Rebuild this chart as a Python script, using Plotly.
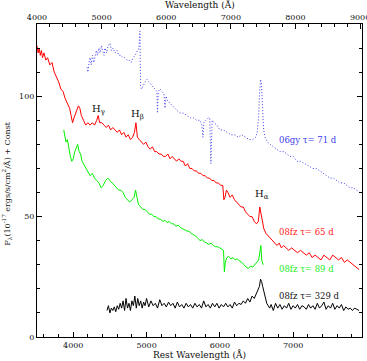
import plotly.graph_objects as go

# ---------------- data (rest wavelength in Angstrom, flux + const) ----------------
red_wave = [3505, 3520, 3535, 3550, 3565, 3580, 3600, 3625, 3650, 3680, 3710, 3740, 3770, 3800,
            3830, 3860, 3890, 3920, 3950, 3970, 3990, 4010, 4040, 4070, 4090, 4110, 4140, 4170,
            4200, 4230, 4260, 4290, 4320, 4340, 4360, 4390, 4420, 4450, 4480, 4510, 4540, 4570,
            4600, 4630, 4660, 4690, 4720, 4750, 4780, 4810, 4835, 4855, 4875, 4900, 4930, 4960,
            4990, 5020, 5050, 5080, 5110, 5140, 5170, 5200, 5230, 5260, 5290, 5320, 5350, 5380,
            5410, 5440, 5470, 5500, 5530, 5560, 5590, 5620, 5650, 5680, 5710, 5740, 5770, 5800,
            5830, 5860, 5890, 5920, 5950, 5980, 6010, 6040, 6055, 6070, 6090, 6110, 6140, 6170,
            6200, 6230, 6260, 6290, 6320, 6350, 6380, 6410, 6440, 6470, 6500, 6525, 6545, 6560,
            6580, 6600, 6630, 6660, 6690, 6720, 6750, 6780, 6810, 6840, 6870, 6900, 6940, 6980,
            7020, 7060, 7100, 7140, 7180, 7220, 7260, 7300, 7340, 7380, 7420, 7460, 7500, 7540,
            7580, 7620, 7660, 7700, 7740, 7780, 7820, 7860, 7900]
red_flux = [121, 118, 120, 117, 119, 116, 118, 115, 116, 113, 114, 110, 108, 106,
            103, 102, 99, 97, 95, 92, 89, 91, 94, 96, 95, 92, 90, 88,
            89, 88, 89, 88, 90, 92, 89, 89, 88, 87, 88, 86, 87, 86,
            85, 86, 84, 85, 83, 84, 82, 83, 85, 89, 83, 82, 81, 80,
            81, 79, 78, 79, 77, 77, 76, 76, 75, 75, 76, 74, 75, 74,
            73, 74, 73, 73, 71, 72, 70, 70, 69, 69, 68, 68, 67, 67,
            66, 66, 65, 65, 64, 64, 63, 63, 57, 58, 61, 60, 58, 59,
            57, 56, 55, 54, 54, 52, 51, 50, 50, 48, 47, 48, 54, 51,
            47, 45, 43, 42, 41, 40, 39, 38, 39, 37, 38, 37, 36, 37,
            36, 35, 36, 35, 34, 35, 33, 34, 33, 32, 34, 33, 32, 34,
            33, 32, 33, 31, 32, 31, 30, 29, 28]

green_wave = [3870, 3885, 3900, 3920, 3940, 3960, 3980, 4000, 4020, 4040, 4060, 4080, 4100, 4120,
              4140, 4170, 4200, 4230, 4260, 4290, 4320, 4350, 4380, 4410, 4440, 4470, 4500, 4530,
              4560, 4590, 4620, 4650, 4680, 4710, 4740, 4770, 4800, 4830, 4850, 4870, 4890, 4920,
              4950, 4980, 5010, 5040, 5070, 5100, 5130, 5160, 5190, 5220, 5250, 5280, 5310, 5340,
              5370, 5400, 5430, 5460, 5490, 5520, 5550, 5580, 5610, 5640, 5670, 5700, 5730, 5760,
              5790, 5820, 5850, 5880, 5910, 5940, 5970, 6000, 6030, 6050, 6062, 6075, 6095, 6120,
              6150, 6180, 6210, 6240, 6270, 6300, 6330, 6360, 6390, 6420, 6450, 6480, 6505, 6530,
              6550, 6560, 6572, 6590]
green_flux = [86, 84, 81, 82, 78, 75, 73, 74, 77, 79, 80, 77, 76, 73,
              72, 70, 69, 67, 68, 66, 65, 64, 62, 63, 65, 66, 65, 64,
              63, 62, 61, 61, 60, 58, 57, 56, 57, 58, 61, 57, 55, 54,
              53, 53, 52, 51, 51, 50, 50, 49, 49, 48, 48.5, 47.5, 48, 47,
              47, 46, 46.5, 45.5, 45, 44.5, 44, 44, 43, 42.5, 42, 41, 40, 40.5,
              39.5, 39, 38.5, 39, 38, 37.5, 37.5, 37, 36.5, 36, 27, 31, 33, 33.5,
              32.5, 33, 32, 32.5, 31.5, 31, 30, 29, 28.5, 29.5, 29, 30, 31, 32,
              36, 38, 32, 30]

black_wave = [4460, 4480, 4500, 4520, 4540, 4560, 4580, 4600, 4620, 4640, 4660, 4680, 4700, 4720,
              4740, 4760, 4780, 4800, 4820, 4840, 4860, 4880, 4900, 4920, 4940, 4960, 4980, 5000,
              5030, 5060, 5090, 5120, 5150, 5180, 5210, 5240, 5270, 5300, 5330, 5360, 5390, 5420,
              5450, 5480, 5510, 5540, 5570, 5600, 5630, 5660, 5690, 5720, 5750, 5780, 5810, 5840,
              5870, 5900, 5930, 5960, 5990, 6020, 6050, 6080, 6110, 6140, 6170, 6200, 6230, 6260,
              6290, 6320, 6350, 6380, 6410, 6440, 6470, 6500, 6520, 6540, 6555, 6570, 6585, 6600,
              6620, 6640, 6660, 6680, 6700, 6730, 6760, 6790, 6820, 6850, 6880, 6910, 6940, 6970,
              7000, 7030, 7060, 7090, 7120, 7150, 7180, 7210, 7240, 7270, 7300, 7330, 7360, 7390,
              7420, 7450, 7480, 7510, 7540, 7570, 7600, 7630, 7660, 7690, 7720, 7750, 7780, 7810,
              7840, 7870, 7900]
black_flux = [11, 13, 10, 12, 11, 12.5, 10.5, 13, 11.5, 14, 12, 15, 11, 16,
              12, 14, 11, 15, 13, 17, 12, 16, 13, 15, 12, 14.5, 13, 16,
              12.5, 15, 13, 14, 12, 15.5, 13, 14, 12.5, 14.5, 13, 14, 12, 14.5,
              12.5, 13.5, 12, 14, 12.5, 13.5, 12, 14, 12.5, 13.5, 12, 15, 12.5, 13.5,
              12, 14, 12.5, 14, 12, 13.5, 12.5, 14, 12.5, 13.5, 12, 14.5, 13, 14,
              13.5, 15, 14, 16, 14.5, 17, 16, 18, 19.5, 21, 24, 23, 21, 19,
              16, 14, 13, 12, 13.5, 11, 14, 12, 13.5, 11.5, 13, 12, 14, 11.5,
              13, 12, 13.5, 11.5, 13, 12.5, 11.5, 13.5, 12, 13, 11.5, 14, 12, 13,
              14.5, 11.5, 13, 12, 14, 11.5, 13, 12, 13.5, 11, 12.5, 11.5, 12, 11,
              12, 11.5, 11]

blue_wave = [4187, 4200, 4215, 4228, 4245, 4262, 4280, 4296, 4315, 4330, 4350, 4364, 4385, 4400,
             4420, 4432, 4455, 4475, 4501, 4520, 4542, 4570, 4596, 4620, 4650, 4678, 4705, 4733,
             4760, 4790, 4815, 4842, 4870, 4895, 4910, 4918, 4930, 4951, 4980, 5005, 5030, 5060,
             5090, 5120, 5142, 5149, 5160, 5185, 5210, 5237, 5251, 5265, 5290, 5319, 5350, 5387,
             5420, 5456, 5500, 5551, 5600, 5640, 5687, 5728, 5756, 5769, 5783, 5810, 5840, 5862,
             5878, 5895, 5920, 5960, 6001, 6050, 6100, 6150, 6200, 6250, 6300, 6350, 6400, 6450,
             6490, 6510, 6528, 6542, 6555, 6568, 6582, 6598, 6618, 6650, 6690, 6730, 6779, 6820,
             6870, 6915, 6960, 7000, 7052, 7100, 7161, 7210, 7270, 7320, 7365, 7420, 7460, 7502,
             7550, 7600, 7638, 7690, 7740, 7775, 7820, 7870, 7910]
blue_flux = [112, 110, 114, 116, 113, 117, 114, 116, 119, 117, 120, 118, 121, 119,
             117, 120, 118, 121, 122, 119, 120, 118, 119, 117, 117, 116, 116, 115,
             115, 114, 116, 117, 119, 120, 127, 104, 103, 104, 106, 107, 106, 105,
             104, 103, 102, 93, 102, 103, 102, 101, 95, 100, 98, 97, 96, 95,
             94, 93, 93, 92, 91, 91, 90, 90, 88, 83, 89, 90, 91, 91,
             72, 90, 89, 88, 86, 86, 85, 84, 84, 83, 84, 83, 82, 82,
             83, 85, 91, 101, 107, 105, 96, 86, 83, 81, 80, 79, 78, 77,
             77, 76, 75, 75, 73, 73, 72, 71, 70, 70, 69, 68, 67, 66,
             66, 65, 64, 64, 63, 62, 62, 61, 60]

line_labels = ["H<sub>γ</sub>", "H<sub>β</sub>", "H<sub>α</sub>"]
line_label_x = [4350, 4880, 6575]
line_label_y = [94.5, 92.5, 59]

spec_labels = ["06gy τ= 71 d", "08fz τ= 65 d", "08fz τ= 89 d", "08fz τ= 329 d"]
spec_label_y = [82, 43.7, 28.1, 17]
spec_label_x = 6775
spec_colors = ["#3c3cf0", "#ff1a1a", "#22ee22", "#111111"]

x_ticks = [4000, 5000, 6000, 7000]
x2_ticks = [4000, 5000, 6000, 7000, 8000, 9000]
y_ticks = [0, 50, 100]

FONT = "DejaVu Serif"

fig = go.Figure()
fig.add_trace(go.Scatter(x=blue_wave, y=blue_flux, mode="lines",
                         line=dict(color=spec_colors[0], width=1, dash="1px,2px"), showlegend=False))
fig.add_trace(go.Scatter(x=red_wave, y=red_flux, mode="lines",
                         line=dict(color="#ff0000", width=1), showlegend=False))
fig.add_trace(go.Scatter(x=green_wave, y=green_flux, mode="lines",
                         line=dict(color="#00f000", width=1), showlegend=False))
fig.add_trace(go.Scatter(x=black_wave, y=black_flux, mode="lines",
                         line=dict(color="#000000", width=1), showlegend=False))
# empty trace to activate the top (observed-frame) axis
fig.add_trace(go.Scatter(x=[], y=[], xaxis="x2", yaxis="y", showlegend=False, hoverinfo="skip"))

for txt, xx, yy in zip(line_labels, line_label_x, line_label_y):
    fig.add_annotation(x=xx, y=yy, text=txt, showarrow=False,
                       font=dict(family=FONT, size=10, color="#111"))
for txt, yy, col in zip(spec_labels, spec_label_y, spec_colors):
    fig.add_annotation(x=spec_label_x, y=yy, text=txt, showarrow=False, xanchor="left",
                       yanchor="middle", font=dict(family=FONT, size=8.5, color=col))

fig.add_annotation(xref="paper", yref="paper", x=0.5, y=1.062, text="Wavelength (Å)",
                   xanchor="center", yanchor="middle",
                   showarrow=False, font=dict(family=FONT, size=9, color="#111"))
fig.add_annotation(xref="paper", yref="paper", x=0.5, y=-0.056, text="Rest Wavelength (Å)",
                   xanchor="center", yanchor="middle",
                   showarrow=False, font=dict(family=FONT, size=9, color="#111"))
fig.add_annotation(xref="paper", yref="paper", x=-0.092, y=0.49,
                   text="F<sub>λ</sub>(10<sup>-17</sup> ergs/s/cm<sup>2</sup>/Å) + Const",
                   xanchor="center", yanchor="middle",
                   textangle=-90, showarrow=False, font=dict(family=FONT, size=8, color="#111"))

axis_common = dict(showline=True, linecolor="black", linewidth=1, showgrid=False, zeroline=False,
                   ticks="inside", ticklen=5, tickcolor="black", automargin=False,
                   tickfont=dict(family=FONT, size=8, color="#111"))

fig.update_layout(
    width=367, height=361,
    margin=dict(l=37, r=5, t=24, b=24, autoexpand=False),
    paper_bgcolor="white", plot_bgcolor="white",
    xaxis=dict(range=[3505, 7940], tickvals=x_ticks, mirror=False,
               minor=dict(dtick=200, tick0=4000, ticks="inside", ticklen=3, tickcolor="black"),
               **axis_common),
    xaxis2=dict(range=[4000, 9030], tickvals=x2_ticks, overlaying="x", side="top", anchor="y",
                ticklabeloverflow="allow",
                minor=dict(dtick=200, tick0=4000, ticks="inside", ticklen=3, tickcolor="black"),
                **axis_common),
    yaxis=dict(range=[0, 130], tickvals=y_ticks, mirror="ticks",
               minor=dict(dtick=10, tick0=0, ticks="inside", ticklen=3, tickcolor="black"),
               **axis_common),
)

fig.write_html("out.html")
